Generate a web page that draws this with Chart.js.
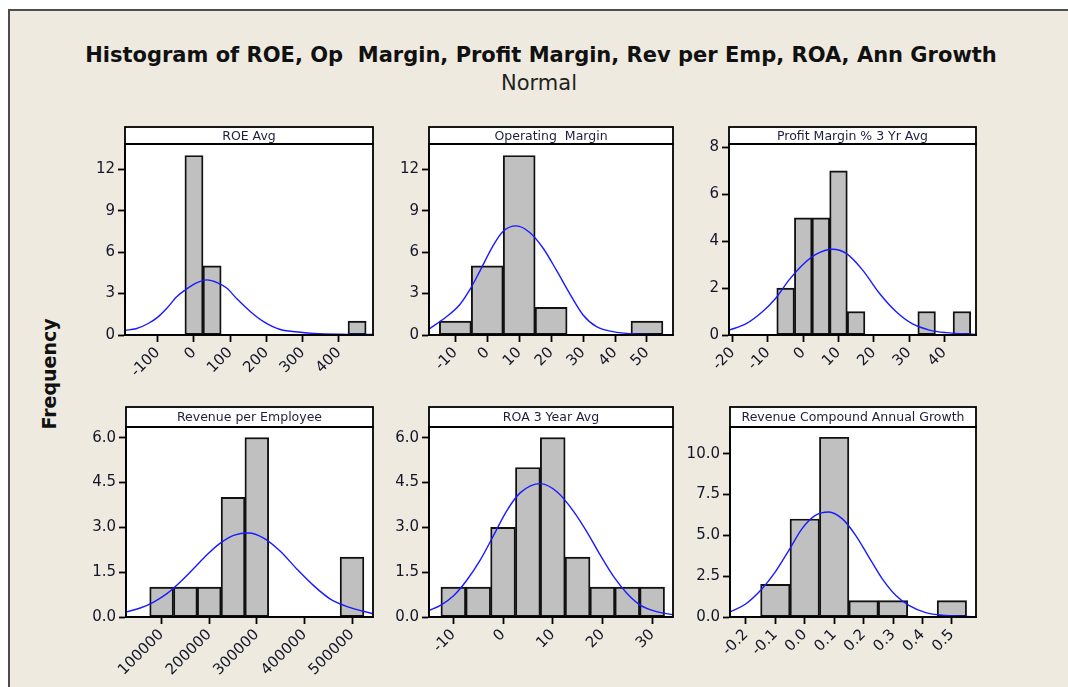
<!DOCTYPE html>
<html>
<head>
<meta charset="utf-8">
<script src="https://cdn.jsdelivr.net/npm/chart.js@4.4.0/dist/chart.umd.min.js"></script>
<style>
  html, body { margin: 0; padding: 0; width: 1068px; height: 687px; overflow: hidden; background: #fff; }
  #frame {
    position: absolute; left: 8px; top: 9px; width: 1100px; height: 700px;
    background: #efeae0; border-left: 2px solid #4d4d4d; border-top: 2px solid #4d4d4d;
  }
  .txt { position: absolute; font-family: 'DejaVu Sans', sans-serif; color: #111; white-space: pre; }
  #title { left: 0; width: 1082px; top: 45px; text-align: center; font-size: 21px; line-height: 21px; font-weight: bold; }
  #subtitle { left: 0; width: 1078px; top: 73px; text-align: center; font-size: 21px; line-height: 21px; color: #222; }
  #ylabel {
    left: 49px; top: 374px; font-size: 19px; font-weight: bold; line-height: 19px;
    transform: translate(-50%, -50%) rotate(-90deg);
  }
  canvas { position: absolute; }
</style>
</head>
<body>
<div id="frame"></div>
<div class="txt" id="title">Histogram of ROE, Op  Margin, Profit Margin, Rev per Emp, ROA, Ann Growth</div>
<div class="txt" id="subtitle">Normal</div>
<div class="txt" id="ylabel">Frequency</div>
<canvas id="c1"></canvas>
<canvas id="c2"></canvas>
<canvas id="c3"></canvas>
<canvas id="c4"></canvas>
<canvas id="c5"></canvas>
<canvas id="c6"></canvas>
<script>
// ---- ROE Avg ----
const roeBins = [0, 50, 450];
const roeCounts = [13, 5, 1];
const roeCurveX = [-190, -160, -125, -98, -75, -47, -24, 4, 36, 64, 91, 119, 156, 192, 238, 294, 331, 404, 494];
const roeCurveY = [0.35, 0.45, 0.85, 1.33, 1.93, 2.78, 3.26, 3.74, 3.99, 3.8, 3.38, 2.6, 1.69, 0.97, 0.4, 0.2, 0.12, 0.06, 0.04];
const roeXTicks = [-100, 0, 100, 200, 300, 400];
const roeYTicks = [0, 3, 6, 9, 12];

// ---- Operating Margin ----
const opBins = [-10, 0, 10, 20, 50];
const opCounts = [1, 5, 13, 2, 1];
const opCurveX = [-18.2, -12.9, -8.7, -5.5, -2.4, 1.8, 4.9, 9.1, 13.3, 17.5, 21.6, 25.8, 30, 34.2, 39.4, 45.7, 50.9, 58.1];
const opCurveY = [0.43, 1.3, 2.17, 3.26, 4.59, 6.45, 7.49, 7.9, 7.42, 6.28, 4.71, 3.0, 1.45, 0.6, 0.24, 0.07, 0.03, 0.01];
const opXTicks = [-10, 0, 10, 20, 30, 40, 50];
const opYTicks = [0, 3, 6, 9, 12];

// ---- Profit Margin % 3 Yr Avg ----
const pmBins = [-5, 0, 5, 10, 15, 35, 45];
const pmCounts = [2, 5, 5, 7, 1, 1, 1];
const pmCurveX = [-21, -16.3, -11.5, -7.8, -4, -0.2, 3.6, 8.3, 12.1, 16.8, 21.6, 26.3, 31, 35.8, 40.5, 49];
const pmCurveY = [0.21, 0.47, 1.0, 1.57, 2.35, 2.99, 3.44, 3.66, 3.49, 2.78, 1.78, 1.0, 0.47, 0.21, 0.1, 0.02];
const pmXTicks = [-20, -10, 0, 10, 20, 30, 40];
const pmYTicks = [0, 2, 4, 6, 8];

// ---- Revenue per Employee ----
const revBins = [100000, 150000, 200000, 250000, 300000, 500000];
const revCounts = [1, 1, 1, 4, 6, 2];
const revCurveX = [25200, 55200, 83200, 111200, 139200, 167300, 195300, 223300, 251300, 282800, 314400, 349400, 384400, 419400, 454500, 489500, 544100];
const revCurveY = [0.17, 0.3, 0.5, 0.78, 1.17, 1.62, 2.08, 2.47, 2.73, 2.81, 2.64, 2.2, 1.6, 1.05, 0.6, 0.35, 0.11];
const revXTicks = [100000, 200000, 300000, 400000, 500000];
const revYTicks = [0, 1.5, 3, 4.5, 6];

// ---- ROA 3 Year Avg ----
const roaBins = [-10, -5, 0, 5, 10, 15, 20, 25, 30];
const roaCounts = [1, 1, 3, 5, 6, 2, 1, 1, 1];
const roaCurveX = [-14.9, -12.6, -9.9, -7.3, -4.6, -1.9, 0.8, 3.5, 7.5, 10.9, 14.3, 16.9, 19.6, 22.3, 25, 27.7, 31.1, 34.2];
const roaCurveY = [0.22, 0.39, 0.72, 1.23, 1.9, 2.73, 3.57, 4.16, 4.46, 4.18, 3.51, 2.84, 2.06, 1.34, 0.78, 0.39, 0.17, 0.08];
const roaXTicks = [-10, 0, 10, 20, 30];
const roaYTicks = [0, 1.5, 3, 4.5, 6];

// ---- Revenue Compound Annual Growth ----
const grBins = [-0.1, 0, 0.1, 0.2, 0.3, 0.5];
const grCounts = [2, 6, 11, 1, 1, 1];
const grCurveX = [-0.254, -0.202, -0.145, -0.1, -0.054, -0.009, 0.036, 0.082, 0.127, 0.173, 0.218, 0.263, 0.309, 0.354, 0.411, 0.479, 0.582];
const grCurveY = [0.31, 0.78, 1.73, 2.76, 4.08, 5.41, 6.22, 6.43, 6.02, 5.0, 3.67, 2.35, 1.33, 0.71, 0.27, 0.1, 0.02];
const grXTicks = [-0.2, -0.1, 0, 0.1, 0.2, 0.3, 0.4, 0.5];
const grYTicks = [0, 2.5, 5, 7.5, 10];

const TICK_FONT = { family: "'DejaVu Sans', sans-serif", size: 15 };
const TICK_COLOR = '#15152a';

// white plot area, boxed header strip with the panel name, frame round the plot
const panelFrame = {
    id: 'panelFrame',
    beforeDraw(chart) {
        const { ctx, chartArea: a } = chart;
        ctx.save();
        ctx.fillStyle = '#fff';
        ctx.fillRect(a.left, a.top, a.width, a.height);
        ctx.restore();
    },
    afterDraw(chart, args, opts) {
        const { ctx, chartArea: a } = chart;
        const h = opts.headerHeight;
        ctx.save();
        ctx.fillStyle = '#fff';
        ctx.fillRect(a.left, a.top - h, a.width, h);
        ctx.strokeStyle = '#000';
        ctx.lineWidth = 1.8;
        ctx.strokeRect(a.left, a.top - h, a.width, h);
        ctx.strokeRect(a.left, a.top, a.width, a.height);
        ctx.fillStyle = '#1e1e3c';
        ctx.font = "12.5px 'DejaVu Sans', sans-serif";
        ctx.textAlign = 'center';
        ctx.textBaseline = 'middle';
        ctx.fillText(opts.title, (a.left + a.right) / 2, a.top - h / 2 + 1);
        ctx.restore();
    }
};

function axisStyle() {
    return {
        grid: { display: true, drawOnChartArea: false, offset: false, tickLength: 7, tickWidth: 1.8, tickColor: '#000' },
        border: { display: true, color: '#000', width: 1.8 }
    };
}

function makePanel(id, box, title, bins, counts, curveX, curveY, xTicks, yTicks, xMin, xMax, yMax, xDec, yDec) {
    const padL = 75, padR = 6, padT = 3, padB = 72;
    const headerH = box.T - box.hTop;
    const canvas = document.getElementById(id);
    canvas.width = box.R - box.L + padL + padR;
    canvas.height = box.B - box.hTop + padT + padB;
    canvas.style.left = (box.L - padL) + 'px';
    canvas.style.top = (box.hTop - padT) + 'px';

    return new Chart(canvas.getContext('2d'), {
        type: 'bar',
        data: {
            datasets: [
                {
                    type: 'line',
                    data: curveX.map((x, i) => ({ x: x, y: curveY[i] })),
                    borderColor: '#1a1aff',
                    borderWidth: 1.4,
                    pointRadius: 0,
                    fill: false,
                    cubicInterpolationMode: 'monotone',
                    order: 0
                },
                {
                    type: 'bar',
                    data: bins.map((x, i) => ({ x: x, y: counts[i] })),
                    backgroundColor: '#c0c0c0',
                    borderColor: '#111',
                    borderWidth: 1.9,
                    borderSkipped: false,
                    barPercentage: 1,
                    categoryPercentage: 1,
                    order: 1
                }
            ]
        },
        options: {
            responsive: false,
            animation: false,
            devicePixelRatio: 1,
            layout: { autoPadding: false, padding: { left: 0, top: padT + headerH, right: padR, bottom: 0 } },
            plugins: {
                legend: { display: false },
                tooltip: { enabled: false },
                panelFrame: { title: title, headerHeight: headerH }
            },
            scales: {
                x: {
                    type: 'linear',
                    min: xMin,
                    max: xMax,
                    offset: false,
                    ...axisStyle(),
                    ticks: {
                        autoSkip: false, minRotation: 45, maxRotation: 45, padding: 2,
                        font: TICK_FONT, color: TICK_COLOR,
                        callback: v => v.toFixed(xDec)
                    },
                    afterBuildTicks: s => { s.ticks = xTicks.map(v => ({ value: v })); },
                    afterFit: s => { s.height = padB; }
                },
                y: {
                    min: 0,
                    max: yMax,
                    ...axisStyle(),
                    ticks: {
                        padding: 3, font: TICK_FONT, color: TICK_COLOR,
                        callback: v => v.toFixed(yDec)
                    },
                    afterBuildTicks: s => { s.ticks = yTicks.map(v => ({ value: v })); },
                    afterFit: s => { s.width = padL; }
                }
            }
        },
        plugins: [panelFrame]
    });
}

makePanel('c1', { L: 125, R: 373, T: 144, B: 335, hTop: 127 }, 'ROE Avg',
    roeBins, roeCounts, roeCurveX, roeCurveY, roeXTicks, roeYTicks, -190.3, 493.9, 13.83, 0, 0);
makePanel('c2', { L: 429, R: 673, T: 144, B: 335, hTop: 127 }, 'Operating  Margin',
    opBins, opCounts, opCurveX, opCurveY, opXTicks, opYTicks, -18.24, 58.15, 13.83, 0, 0);
makePanel('c3', { L: 729, R: 976, T: 144, B: 335, hTop: 127 }, 'Profit Margin % 3 Yr Avg',
    pmBins, pmCounts, pmCurveX, pmCurveY, pmXTicks, pmYTicks, -21.05, 49.0, 8.15, 0, 0);
makePanel('c4', { L: 126, R: 373, T: 427, B: 617, hTop: 407 }, 'Revenue per Employee',
    revBins, revCounts, revCurveX, revCurveY, revXTicks, revYTicks, 25200, 544100, 6.355, 0, 1);
makePanel('c5', { L: 429, R: 673, T: 427, B: 617, hTop: 407 }, 'ROA 3 Year Avg',
    roaBins, roaCounts, roaCurveX, roaCurveY, roaXTicks, roaYTicks, -14.9, 34.2, 6.355, 0, 1);
makePanel('c6', { L: 730, R: 976, T: 427, B: 617, hTop: 407 }, 'Revenue Compound Annual Growth',
    grBins, grCounts, grCurveX, grCurveY, grXTicks, grYTicks, -0.254, 0.582, 11.63, 1, 1);
</script>
</body>
</html>
